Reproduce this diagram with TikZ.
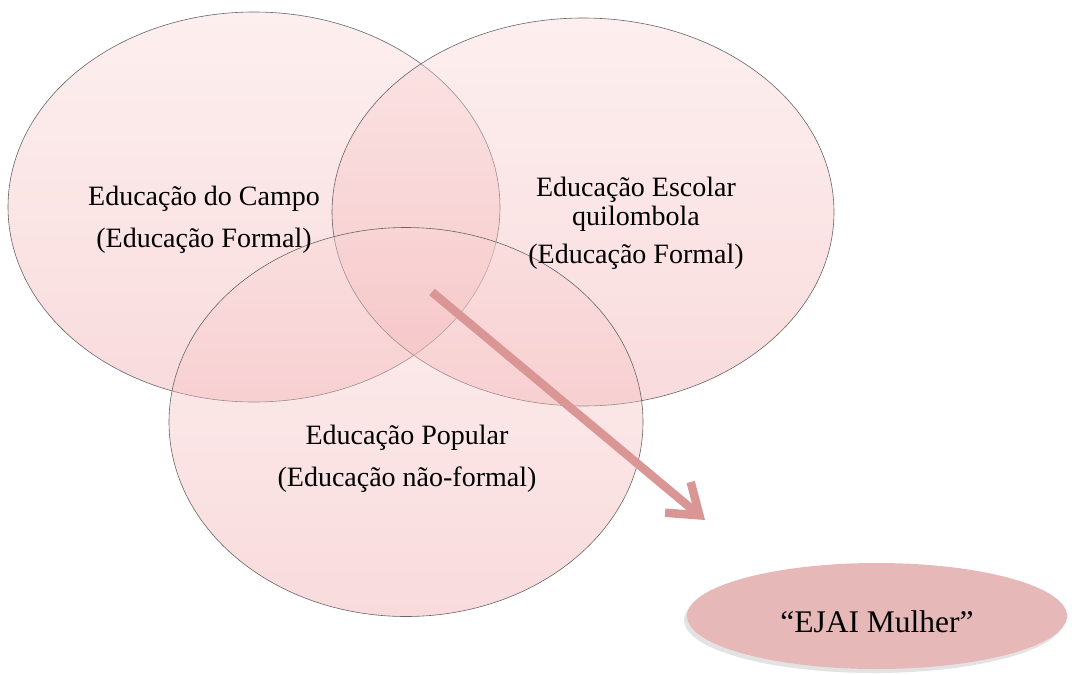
\documentclass[tikz,border=0pt]{standalone}
\usepackage{fontspec}
\setmainfont{Liberation Serif}
\usetikzlibrary{shapes.geometric,arrows.meta,shadows}
\definecolor{vennTop}{RGB}{250,215,215}
\definecolor{vennBot}{RGB}{240,165,168}
\definecolor{ejaiFill}{RGB}{230,184,183}
\definecolor{arrowCol}{RGB}{217,150,148}

\begin{document}
\begin{tikzpicture}[x=1pt,y=-1pt,
		venn/.style={ellipse, draw=black!60, line width=0.6pt, inner sep=0pt,
			top color=vennTop, bottom color=vennBot, fill opacity=0.4, draw opacity=1},
		txt/.style={align=center, font=\fontsize{28}{42}\selectfont}]
		\useasboundingbox (0,0) rectangle (1072,675);

		% the three circles
		\node[venn, minimum width=492pt, minimum height=390pt] (campo) at (254,207) {};
		\node[venn, minimum width=502pt, minimum height=388pt] (quilombola) at (583,212) {};
		\node[venn, minimum width=474pt, minimum height=389pt] (popular) at (406,422) {};

		\node[txt] (campoTxt) at (204,220) {Educação do Campo\\(Educação Formal)};
		\node[txt] (quiloTxt) at (636,223) {Educação Escolar\\[-13pt]quilombola\\[-4pt](Educação Formal)};
		\node[txt] (popTxt) at (407,459) {Educação Popular\\(Educação não-formal)};

		% result
		\node[ellipse, fill=ejaiFill, minimum width=380pt, minimum height=106pt, inner sep=0pt,
			drop shadow={shadow xshift=-3pt, shadow yshift=-4pt, opacity=0.22},
			text height=33pt, text depth=0pt,
			font=\fontsize{31.5}{38}\selectfont] (ejai) at (877,616) {“EJAI Mulher”};

		\coordinate (arrStart) at (432,292);
		\coordinate (arrEnd) at (705,520);
		\draw[arrowCol, line width=8.5pt, -{Straight Barb[length=28pt,width=40pt]}] (arrStart) -- (arrEnd);
	\end{tikzpicture}
\end{document}
